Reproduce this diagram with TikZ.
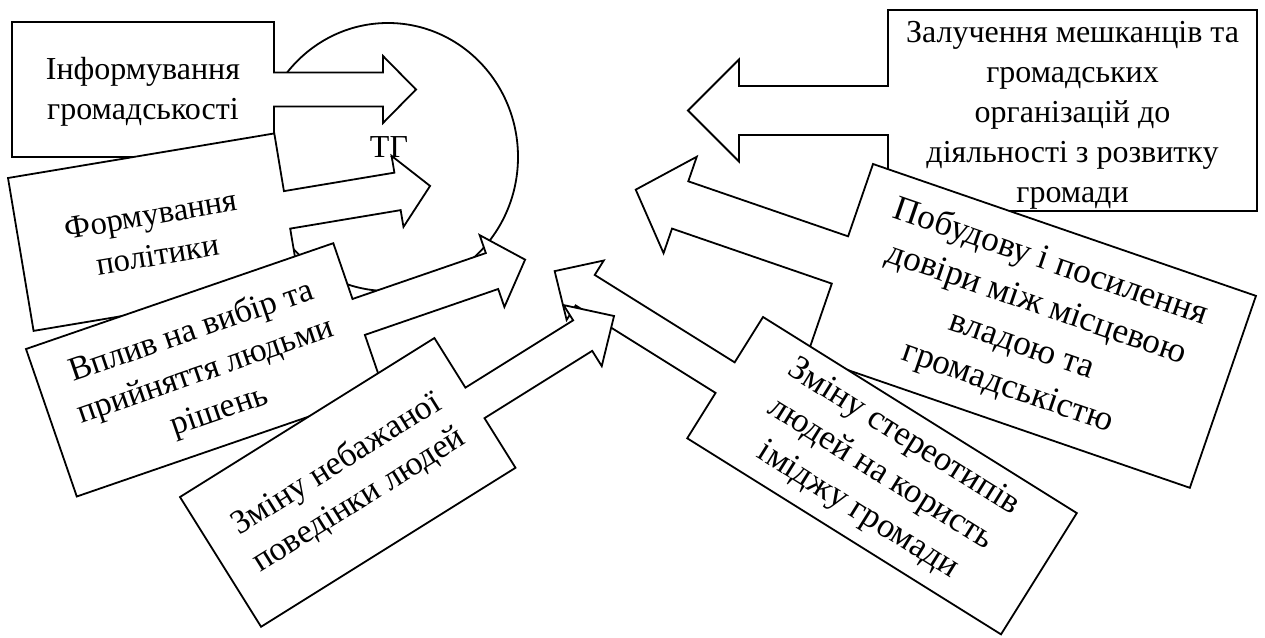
\documentclass[tikz,border=0pt]{standalone}
\usepackage{fontspec}
\setmainfont{Liberation Serif}
\tikzset{
    x = 1pt,
    y = 1pt,
    font = \fontsize{32}{40}\selectfont,
    every node/.style = {
        inner sep = 0pt,
        outer sep = 0pt
    },
    callout/.style = {
        draw,
        fill = white,
        line width = 1.8pt,
        line join = miter
    },
    ring/.style = {
        draw,
        line width = 1.8pt
    },
    note/.style = {
        align = center
    }
}
% arrow callouts: box width, box height, shaft half width, shaft length, head half width, head length
\newcommand{\calloutR}[6]{(0,0) -- (#1,0) -- (#1,-#2/2+#3) -- (#1+#4,-#2/2+#3) -- (#1+#4,-#2/2+#5) -- (#1+#4+#6,-#2/2) -- (#1+#4,-#2/2-#5) -- (#1+#4,-#2/2-#3) -- (#1,-#2/2-#3) -- (#1,-#2) -- (0,-#2) -- cycle}
\newcommand{\calloutL}[6]{(0,0) -- (#1,0) -- (#1,-#2) -- (0,-#2) -- (0,-#2/2-#3) -- (-#4,-#2/2-#3) -- (-#4,-#2/2-#5) -- (-#4-#6,-#2/2) -- (-#4,-#2/2+#5) -- (-#4,-#2/2+#3) -- (0,-#2/2+#3) -- cycle}

\begin{document}
\begin{tikzpicture}
    \useasboundingbox (0,0) rectangle (1265,-637);

    % community in the middle
    \draw[ring] (388,-157) ellipse [x radius=130, y radius=134];
    \node (tg) at (389,-147) {ТГ};

    % left side
    \begin{scope}[shift={(12,-22)}]
        \draw[callout] \calloutR{262}{135}{17}{109}{33.5}{33};
        \node[note] (inform) at (131,-70) {Інформування\\громадськості};
    \end{scope}
    \begin{scope}[shift={(8,-178)}, rotate=9.5]
        \draw[callout] \calloutR{270}{155}{19}{112}{36}{33};
        \node[note, rotate=9.5, scale=1.02] (policy) at (135,-80) {Формування\\політики};
    \end{scope}
    \begin{scope}[shift={(26,-349)}, rotate=19]
        \draw[callout] \calloutR{325}{156}{19}{141}{38}{35};
        \node[note, rotate=19, scale=1.05] (choice) at (162.5,-80) {Вплив на вибір та\\прийняття людьми\\рішень};
    \end{scope}

    % right side
    \begin{scope}[shift={(888,-10)}]
        \draw[callout] \calloutL{369}{201}{24.5}{149}{51}{51};
        \node[note] (involve) at (184.5,-105) {Залучення мешканців та\\громадських\\організацій до\\діяльності з розвитку\\громади};
    \end{scope}
    \begin{scope}[shift={(873,-164)}, rotate=-19]
        \draw[callout] \calloutL{405}{203}{25}{169}{51}{47};
        \node[note, rotate=-19, scale=1.1] (trust) at (200,-101.5) {Побудову і посилення\\довіри між місцевою\\владою та\\громадськістю};
    \end{scope}
    \begin{scope}[shift={(763,-317)}, rotate=-32]
        \draw[callout] \calloutL{370}{143}{18}{165}{35}{36};
        \node[note, rotate=-32, scale=1.08] (stereo) at (183,-71.5) {Зміну стереотипів\\людей на користь\\іміджу громади};
    \end{scope}

    % last one lies on top
    \begin{scope}[shift={(180,-497)}, rotate=32]
        \draw[callout] \calloutR{300}{153}{18}{127}{36}{37};
        \node[note, rotate=32, scale=1.06] (behav) at (150,-76.5) {Зміну небажаної\\поведінки людей};
    \end{scope}
\end{tikzpicture}
\end{document}
